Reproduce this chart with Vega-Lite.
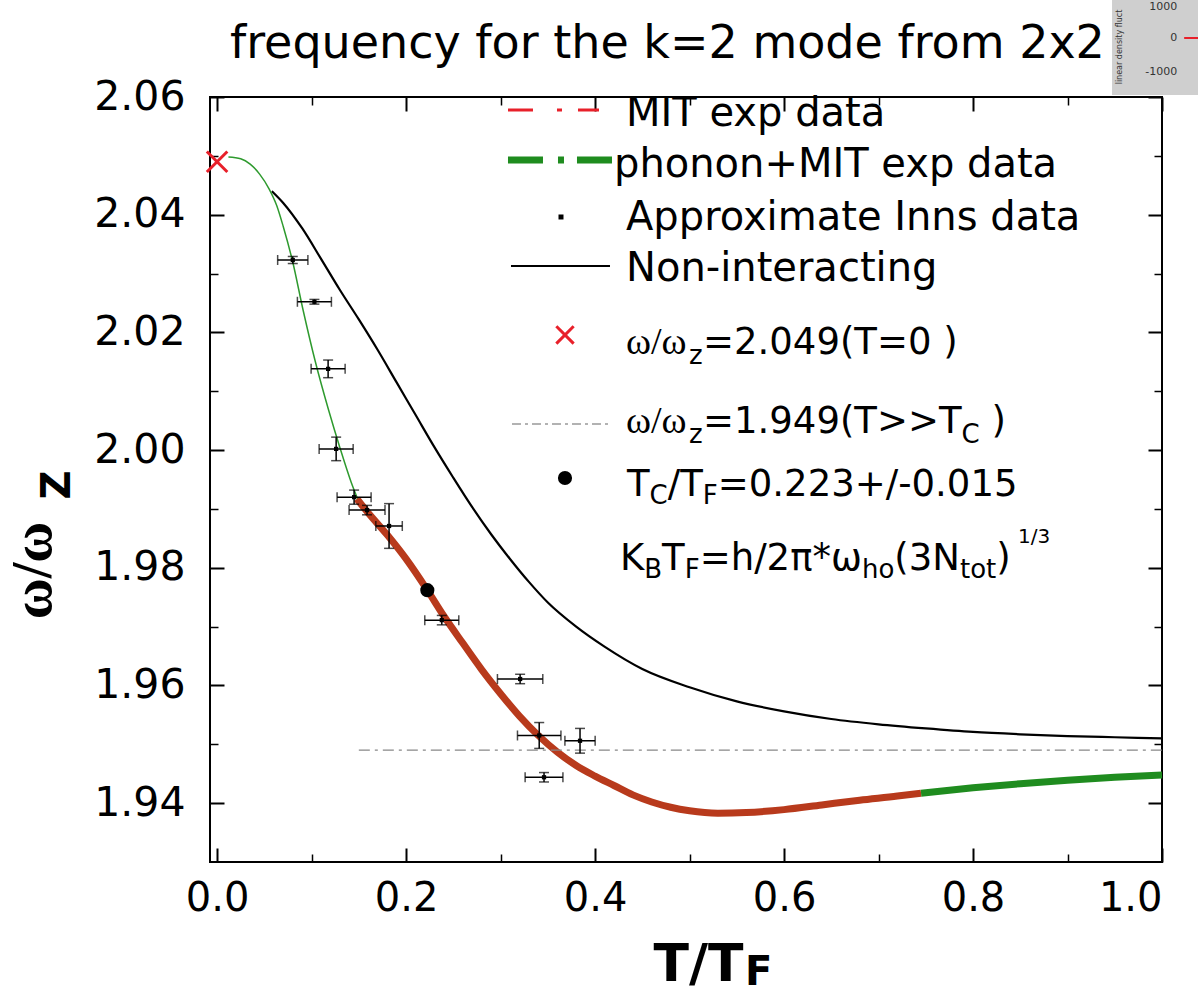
{
  "$schema": "https://vega.github.io/schema/vega-lite/v6.json",
  "width": 952,
  "height": 765,
  "autosize": {"type": "none"},
  "padding": {"left": 210, "top": 97, "right": 36, "bottom": 140},
  "background": "white",
  "config": {
    "view": {"stroke": "black", "strokeWidth": 2},
    "axis": {"grid": false, "domain": false, "tickColor": "black", "labelColor": "black", "titleColor": "black", "labelOverlap": false}
  },
  "resolve": {"axis": {"x": "independent", "y": "independent"}},
  "datasets": {
    "curves": [
      {"s": "noint", "t": 0.058, "w": 2.0440}, {"s": "noint", "t": 0.07, "w": 2.0420}, {"s": "noint", "t": 0.09, "w": 2.0377}, {"s": "noint", "t": 0.11, "w": 2.0325}, {"s": "noint", "t": 0.13, "w": 2.0272}, {"s": "noint", "t": 0.15, "w": 2.0222}, {"s": "noint", "t": 0.17, "w": 2.0170}, {"s": "noint", "t": 0.19, "w": 2.0115}, {"s": "noint", "t": 0.21, "w": 2.0060}, {"s": "noint", "t": 0.23, "w": 2.0005}, {"s": "noint", "t": 0.25, "w": 1.9953}, {"s": "noint", "t": 0.27, "w": 1.9903}, {"s": "noint", "t": 0.29, "w": 1.9857}, {"s": "noint", "t": 0.31, "w": 1.9815}, {"s": "noint", "t": 0.33, "w": 1.9776}, {"s": "noint", "t": 0.35, "w": 1.9741}, {"s": "noint", "t": 0.38, "w": 1.9700}, {"s": "noint", "t": 0.41, "w": 1.9666}, {"s": "noint", "t": 0.45, "w": 1.9628}, {"s": "noint", "t": 0.50, "w": 1.9597}, {"s": "noint", "t": 0.55, "w": 1.9573}, {"s": "noint", "t": 0.60, "w": 1.9556}, {"s": "noint", "t": 0.65, "w": 1.9543}, {"s": "noint", "t": 0.70, "w": 1.9534}, {"s": "noint", "t": 0.75, "w": 1.9527}, {"s": "noint", "t": 0.80, "w": 1.9521}, {"s": "noint", "t": 0.85, "w": 1.9517}, {"s": "noint", "t": 0.90, "w": 1.9514}, {"s": "noint", "t": 0.95, "w": 1.9512}, {"s": "noint", "t": 1.00, "w": 1.9510},
      {"s": "fit", "t": 0.012, "w": 2.0498}, {"s": "fit", "t": 0.025, "w": 2.0495}, {"s": "fit", "t": 0.035, "w": 2.0486}, {"s": "fit", "t": 0.045, "w": 2.0469}, {"s": "fit", "t": 0.055, "w": 2.0444}, {"s": "fit", "t": 0.063, "w": 2.0416}, {"s": "fit", "t": 0.070, "w": 2.0380}, {"s": "fit", "t": 0.080, "w": 2.0320}, {"s": "fit", "t": 0.091, "w": 2.0238}, {"s": "fit", "t": 0.104, "w": 2.0150}, {"s": "fit", "t": 0.118, "w": 2.0068}, {"s": "fit", "t": 0.130, "w": 2.0004}, {"s": "fit", "t": 0.142, "w": 1.9945}, {"s": "fit", "t": 0.150, "w": 1.9912},
      {"s": "mit", "t": 0.148, "w": 1.9917}, {"s": "mit", "t": 0.16, "w": 1.9893}, {"s": "mit", "t": 0.18, "w": 1.9856}, {"s": "mit", "t": 0.20, "w": 1.9815}, {"s": "mit", "t": 0.2225, "w": 1.9762}, {"s": "mit", "t": 0.24, "w": 1.9718}, {"s": "mit", "t": 0.26, "w": 1.9672}, {"s": "mit", "t": 0.28, "w": 1.9627}, {"s": "mit", "t": 0.30, "w": 1.9586}, {"s": "mit", "t": 0.32, "w": 1.9548}, {"s": "mit", "t": 0.34, "w": 1.9515}, {"s": "mit", "t": 0.36, "w": 1.9487}, {"s": "mit", "t": 0.38, "w": 1.9464}, {"s": "mit", "t": 0.40, "w": 1.9446}, {"s": "mit", "t": 0.42, "w": 1.9430}, {"s": "mit", "t": 0.44, "w": 1.9414}, {"s": "mit", "t": 0.46, "w": 1.9402}, {"s": "mit", "t": 0.48, "w": 1.9393}, {"s": "mit", "t": 0.50, "w": 1.9387}, {"s": "mit", "t": 0.53, "w": 1.9383}, {"s": "mit", "t": 0.56, "w": 1.9384}, {"s": "mit", "t": 0.60, "w": 1.9389}, {"s": "mit", "t": 0.64, "w": 1.9397}, {"s": "mit", "t": 0.68, "w": 1.9405}, {"s": "mit", "t": 0.72, "w": 1.9412}, {"s": "mit", "t": 0.745, "w": 1.9417},
      {"s": "phonon", "t": 0.745, "w": 1.9417}, {"s": "phonon", "t": 0.80, "w": 1.9426}, {"s": "phonon", "t": 0.85, "w": 1.9433}, {"s": "phonon", "t": 0.90, "w": 1.9439}, {"s": "phonon", "t": 0.95, "w": 1.9444}, {"s": "phonon", "t": 1.00, "w": 1.9448},
      {"s": "hight", "t": 0.15, "w": 1.949}, {"s": "hight", "t": 1.0, "w": 1.949}
    ],
    "inns": [
      {"t": 0.0801, "w": 2.0323, "tlo": 0.0641, "thi": 0.0961, "wlo": 2.0317, "whi": 2.0329},
      {"t": 0.1030, "w": 2.0252, "tlo": 0.0850, "thi": 0.1210, "wlo": 2.0248, "whi": 2.0256},
      {"t": 0.1175, "w": 2.0138, "tlo": 0.0995, "thi": 0.1355, "wlo": 2.0123, "whi": 2.0153},
      {"t": 0.1260, "w": 2.0002, "tlo": 0.1080, "thi": 0.1440, "wlo": 1.9982, "whi": 2.0022},
      {"t": 0.1450, "w": 1.9920, "tlo": 0.1270, "thi": 0.1630, "wlo": 1.9908, "whi": 1.9932},
      {"t": 0.1587, "w": 1.9898, "tlo": 0.1397, "thi": 0.1777, "wlo": 1.9890, "whi": 1.9906},
      {"t": 0.1820, "w": 1.9871, "tlo": 0.1680, "thi": 0.1960, "wlo": 1.9833, "whi": 1.9909},
      {"t": 0.2378, "w": 1.9711, "tlo": 0.2198, "thi": 0.2558, "wlo": 1.9703, "whi": 1.9719},
      {"t": 0.3207, "w": 1.9611, "tlo": 0.2967, "thi": 0.3447, "wlo": 1.9603, "whi": 1.9619},
      {"t": 0.3409, "w": 1.9515, "tlo": 0.3179, "thi": 0.3639, "wlo": 1.9493, "whi": 1.9537},
      {"t": 0.3841, "w": 1.9506, "tlo": 0.3681, "thi": 0.4001, "wlo": 1.9485, "whi": 1.9527},
      {"t": 0.3460, "w": 1.9444, "tlo": 0.3260, "thi": 0.3660, "wlo": 1.9436, "whi": 1.9452}
    ],
    "marks": [
      {"k": "tc", "t": 0.2225, "w": 1.9762},
      {"k": "t0", "t": 0.0, "w": 2.049},
      {"k": "legtc", "t": 0.36819, "w": 1.99526},
      {"k": "legx", "t": 0.36819, "w": 2.01956},
      {"k": "legdot", "t": 0.36396, "w": 2.03961}
    ],
    "leglines": [
      {"k": "mit", "t": 0.30786, "w": 2.05779}, {"k": "mit", "t": 0.40417, "w": 2.05779},
      {"k": "phonon", "t": 0.30786, "w": 2.04929}, {"k": "phonon", "t": 0.41793, "w": 2.04929},
      {"k": "noint", "t": 0.31104, "w": 2.03128}, {"k": "noint", "t": 0.41581, "w": 2.03128},
      {"k": "hight", "t": 0.31210, "w": 2.00443}, {"k": "hight", "t": 0.41581, "w": 2.00443}
    ],
    "legtext": [
      {"k": "title", "t": 0.01365, "w": 2.06663, "text": "frequency for the k=2 mode from 2x2"},
      {"k": "main40", "t": 0.43274, "w": 2.05499, "text": "MIT exp data"},
      {"k": "main40", "t": 0.42004, "w": 2.04649, "text": "phonon+MIT exp data"},
      {"k": "main40", "t": 0.43274, "w": 2.03748, "text": "Approximate Inns data"},
      {"k": "main40", "t": 0.43274, "w": 2.02865, "text": "Non-interacting"},
      {"k": "omega", "t": 0.43274, "w": 2.01641, "text": "ω/ω"},
      {"k": "omega", "t": 0.43274, "w": 2.00282, "text": "ω/ω"},
      {"k": "sub", "t": 0.49942, "w": 2.01471, "text": "z"},
      {"k": "sub", "t": 0.49942, "w": 2.00112, "text": "z"},
      {"k": "sub", "t": 0.78791, "w": 2.00112, "text": "C"},
      {"k": "sub", "t": 0.45772, "w": 1.99092, "text": "C"},
      {"k": "sub", "t": 0.51402, "w": 1.99092, "text": "F"},
      {"k": "sub", "t": 0.45211, "w": 1.97818, "text": "B"},
      {"k": "sub", "t": 0.49486, "w": 1.97818, "text": "F"},
      {"k": "sub", "t": 0.68251, "w": 1.97818, "text": "ho"},
      {"k": "sub", "t": 0.78622, "w": 1.97818, "text": "tot"},
      {"k": "main37", "t": 0.51424, "w": 2.01641, "text": "=2.049(T=0 )"},
      {"k": "main37", "t": 0.51424, "w": 2.00282, "text": "=1.949(T>>T"},
      {"k": "main37", "t": 0.81956, "w": 2.00282, "text": ")"},
      {"k": "main37", "t": 0.43380, "w": 1.99228, "text": "T"},
      {"k": "main37", "t": 0.47688, "w": 1.99228, "text": "/T"},
      {"k": "main37", "t": 0.52990, "w": 1.99228, "text": "=0.223+/-0.015"},
      {"k": "main37", "t": 0.42639, "w": 1.97954, "text": "K"},
      {"k": "main37", "t": 0.47084, "w": 1.97954, "text": "T"},
      {"k": "main37", "t": 0.51074, "w": 1.97954, "text": "=h/2π*ω"},
      {"k": "main37", "t": 0.71669, "w": 1.97954, "text": "(3N"},
      {"k": "main37", "t": 0.82464, "w": 1.97954, "text": ")"},
      {"k": "sup", "t": 0.84760, "w": 1.98421, "text": "1/3"},
      {"k": "ztitle", "t": -0.15568, "w": 1.99407, "text": "Z"},
      {"k": "ftitle", "t": 0.55868, "w": 1.90910, "text": "F"}
    ],
    "inset": [
      {"k": "box", "t": 0.94713, "t2": 1.0381, "w": 2.07648, "w2": 2.06034}
    ],
    "insettext": [
      {"k": "lab", "t": 1.01603, "w": 2.07530, "text": "1000"},
      {"k": "lab", "t": 1.01603, "w": 2.07003, "text": "0"},
      {"k": "lab", "t": 1.01603, "w": 2.06425, "text": "-1000"},
      {"k": "rot", "t": 0.95558, "w": 2.06850, "text": "linear density fluct"}
    ],
    "insetline": [
      {"t": 1.02344, "w": 2.07003}, {"t": 1.0381, "w": 2.07003}
    ]
  },
  "layer": [
    {
      "data": {"name": "curves"},
      "transform": [{"filter": "datum.s === 'noint'"}],
      "mark": {"type": "line", "color": "black", "strokeWidth": 2.2, "interpolate": "monotone"},
      "encoding": {
        "x": {"field": "t", "type": "quantitative", "scale": {"domain": [-0.0075, 1.0], "nice": false, "zero": false},
          "axis": {"orient": "bottom", "values": [0, 0.2, 0.4, 0.6, 0.8, 1.0], "format": ".1f", "tickSize": -14, "tickWidth": 2, "labelFontSize": 40, "labelFont": "DejaVu Sans", "labelPadding": 30, "title": "T/T", "titleFont": "DejaVu Sans", "titleFontSize": 52, "titleFontWeight": "bold", "titleX": 488, "titleY": 118, "titleAlign": "center", "titleBaseline": "alphabetic"}},
        "y": {"field": "w", "type": "quantitative", "scale": {"domain": [1.93, 2.06], "nice": false, "zero": false},
          "axis": {"orient": "left", "values": [1.94, 1.96, 1.98, 2.0, 2.02, 2.04, 2.06], "format": ".2f", "tickSize": -14, "tickWidth": 2, "labelFontSize": 41, "labelFont": "DejaVu Sans", "labelPadding": 39, "title": "ω/ω", "titleFont": "Liberation Serif", "titleFontSize": 56, "titleFontWeight": "bold", "titleX": -160, "titleY": 473, "titleAngle": -90, "titleAlign": "center", "titleBaseline": "alphabetic"}}
      }
    },
    {
      "data": {"name": "curves"},
      "transform": [{"filter": "datum.s === 'fit'"}],
      "mark": {"type": "line", "color": "#2e9a2e", "strokeWidth": 1.5, "interpolate": "monotone"},
      "encoding": {
        "x": {"field": "t", "type": "quantitative", "scale": {"domain": [-0.0075, 1.0], "nice": false, "zero": false},
          "axis": {"orient": "bottom", "values": [0.1, 0.3, 0.5, 0.7, 0.9], "tickSize": -8, "tickWidth": 1.5, "labels": false, "title": null}},
        "y": {"field": "w", "type": "quantitative", "scale": {"domain": [1.93, 2.06], "nice": false, "zero": false},
          "axis": {"orient": "left", "values": [1.95, 1.97, 1.99, 2.01, 2.03, 2.05], "tickSize": -8, "tickWidth": 1.5, "labels": false, "title": null}}
      }
    },
    {
      "data": {"name": "curves"},
      "transform": [{"filter": "datum.s === 'mit'"}],
      "mark": {"type": "line", "color": "#b83a1c", "strokeWidth": 7, "interpolate": "monotone"},
      "encoding": {
        "x": {"field": "t", "type": "quantitative", "scale": {"domain": [-0.0075, 1.0], "nice": false, "zero": false},
          "axis": {"orient": "top", "values": [0, 0.2, 0.4, 0.6, 0.8, 1.0], "tickSize": -14, "tickWidth": 2, "labels": false, "title": null}},
        "y": {"field": "w", "type": "quantitative", "scale": {"domain": [1.93, 2.06], "nice": false, "zero": false},
          "axis": {"orient": "right", "values": [1.94, 1.96, 1.98, 2.0, 2.02, 2.04, 2.06], "tickSize": -14, "tickWidth": 2, "labels": false, "title": null}}
      }
    },
    {
      "data": {"name": "curves"},
      "transform": [{"filter": "datum.s === 'phonon'"}],
      "mark": {"type": "line", "color": "#1f8c1f", "strokeWidth": 7, "interpolate": "monotone"},
      "encoding": {
        "x": {"field": "t", "type": "quantitative", "scale": {"domain": [-0.0075, 1.0], "nice": false, "zero": false},
          "axis": {"orient": "top", "values": [0.1, 0.3, 0.5, 0.7, 0.9], "tickSize": -8, "tickWidth": 1.5, "labels": false, "title": null}},
        "y": {"field": "w", "type": "quantitative", "scale": {"domain": [1.93, 2.06], "nice": false, "zero": false},
          "axis": {"orient": "right", "values": [1.95, 1.97, 1.99, 2.01, 2.03, 2.05], "tickSize": -8, "tickWidth": 1.5, "labels": false, "title": null}}
      }
    },
    {
      "data": {"name": "curves"},
      "transform": [{"filter": "datum.s === 'hight'"}],
      "mark": {"type": "line", "color": "#888888", "strokeWidth": 1.3, "strokeDash": [11, 5, 3, 5]},
      "encoding": {
        "x": {"field": "t", "type": "quantitative", "axis": null},
        "y": {"field": "w", "type": "quantitative", "axis": null}
      }
    },
    {
      "data": {"name": "inns"},
      "mark": {"type": "rule", "color": "black", "strokeWidth": 1.5},
      "encoding": {
        "x": {"field": "tlo", "type": "quantitative", "axis": null},
        "x2": {"field": "thi"},
        "y": {"field": "w", "type": "quantitative", "axis": null}
      }
    },
    {
      "data": {"name": "inns"},
      "mark": {"type": "rule", "color": "black", "strokeWidth": 1.5},
      "encoding": {
        "x": {"field": "t", "type": "quantitative", "axis": null},
        "y": {"field": "wlo", "type": "quantitative", "axis": null},
        "y2": {"field": "whi"}
      }
    },
    {
      "data": {"name": "inns"},
      "mark": {"type": "tick", "orient": "vertical", "color": "black", "size": 10, "thickness": 1.5},
      "encoding": {
        "x": {"field": "tlo", "type": "quantitative", "axis": null},
        "y": {"field": "w", "type": "quantitative", "axis": null}
      }
    },
    {
      "data": {"name": "inns"},
      "mark": {"type": "tick", "orient": "vertical", "color": "black", "size": 10, "thickness": 1.5},
      "encoding": {
        "x": {"field": "thi", "type": "quantitative", "axis": null},
        "y": {"field": "w", "type": "quantitative", "axis": null}
      }
    },
    {
      "data": {"name": "inns"},
      "mark": {"type": "tick", "orient": "horizontal", "color": "black", "size": 10, "thickness": 1.5},
      "encoding": {
        "x": {"field": "t", "type": "quantitative", "axis": null},
        "y": {"field": "wlo", "type": "quantitative", "axis": null}
      }
    },
    {
      "data": {"name": "inns"},
      "mark": {"type": "tick", "orient": "horizontal", "color": "black", "size": 10, "thickness": 1.5},
      "encoding": {
        "x": {"field": "t", "type": "quantitative", "axis": null},
        "y": {"field": "whi", "type": "quantitative", "axis": null}
      }
    },
    {
      "data": {"name": "inns"},
      "mark": {"type": "point", "shape": "square", "filled": true, "color": "black", "size": 18, "opacity": 1},
      "encoding": {
        "x": {"field": "t", "type": "quantitative", "axis": null},
        "y": {"field": "w", "type": "quantitative", "axis": null}
      }
    },
    {
      "data": {"name": "marks"},
      "transform": [{"filter": "datum.k === 'tc' || datum.k === 'legtc'"}],
      "mark": {"type": "point", "shape": "circle", "filled": true, "color": "black", "size": 200, "opacity": 1},
      "encoding": {
        "x": {"field": "t", "type": "quantitative", "axis": null},
        "y": {"field": "w", "type": "quantitative", "axis": null}
      }
    },
    {
      "data": {"name": "marks"},
      "transform": [{"filter": "datum.k === 't0'"}],
      "mark": {"type": "point", "shape": "M-1,-1L1,1M-1,1L1,-1", "filled": false, "color": "#e8202a", "strokeWidth": 3, "size": 420, "opacity": 1},
      "encoding": {
        "x": {"field": "t", "type": "quantitative", "axis": null},
        "y": {"field": "w", "type": "quantitative", "axis": null}
      }
    },
    {
      "data": {"name": "marks"},
      "transform": [{"filter": "datum.k === 'legx'"}],
      "mark": {"type": "point", "shape": "M-1,-1L1,1M-1,1L1,-1", "filled": false, "color": "#e8202a", "strokeWidth": 3, "size": 300, "opacity": 1},
      "encoding": {
        "x": {"field": "t", "type": "quantitative", "axis": null},
        "y": {"field": "w", "type": "quantitative", "axis": null}
      }
    },
    {
      "data": {"name": "marks"},
      "transform": [{"filter": "datum.k === 'legdot'"}],
      "mark": {"type": "point", "shape": "square", "filled": true, "color": "black", "size": 25, "opacity": 1},
      "encoding": {
        "x": {"field": "t", "type": "quantitative", "axis": null},
        "y": {"field": "w", "type": "quantitative", "axis": null}
      }
    },
    {
      "data": {"name": "leglines"},
      "transform": [{"filter": "datum.k === 'mit'"}],
      "mark": {"type": "line", "color": "#e8202a", "strokeWidth": 3, "strokeDash": [25, 24, 5, 16]},
      "encoding": {
        "x": {"field": "t", "type": "quantitative", "axis": null},
        "y": {"field": "w", "type": "quantitative", "axis": null}
      }
    },
    {
      "data": {"name": "leglines"},
      "transform": [{"filter": "datum.k === 'phonon'"}],
      "mark": {"type": "line", "color": "#1f8c1f", "strokeWidth": 7, "strokeDash": [35, 15, 6, 13]},
      "encoding": {
        "x": {"field": "t", "type": "quantitative", "axis": null},
        "y": {"field": "w", "type": "quantitative", "axis": null}
      }
    },
    {
      "data": {"name": "leglines"},
      "transform": [{"filter": "datum.k === 'noint'"}],
      "mark": {"type": "line", "color": "black", "strokeWidth": 2},
      "encoding": {
        "x": {"field": "t", "type": "quantitative", "axis": null},
        "y": {"field": "w", "type": "quantitative", "axis": null}
      }
    },
    {
      "data": {"name": "leglines"},
      "transform": [{"filter": "datum.k === 'hight'"}],
      "mark": {"type": "line", "color": "#999999", "strokeWidth": 1.3, "strokeDash": [9, 4, 3, 4]},
      "encoding": {
        "x": {"field": "t", "type": "quantitative", "axis": null},
        "y": {"field": "w", "type": "quantitative", "axis": null}
      }
    },
    {
      "data": {"name": "legtext"},
      "transform": [{"filter": "datum.k === 'title'"}],
      "mark": {"type": "text", "font": "DejaVu Sans", "fontSize": 46, "align": "left", "baseline": "alphabetic", "color": "black"},
      "encoding": {
        "x": {"field": "t", "type": "quantitative", "axis": null},
        "y": {"field": "w", "type": "quantitative", "axis": null},
        "text": {"field": "text"}
      }
    },
    {
      "data": {"name": "legtext"},
      "transform": [{"filter": "datum.k === 'main40'"}],
      "mark": {"type": "text", "font": "DejaVu Sans", "fontSize": 40, "align": "left", "baseline": "alphabetic", "color": "black"},
      "encoding": {
        "x": {"field": "t", "type": "quantitative", "axis": null},
        "y": {"field": "w", "type": "quantitative", "axis": null},
        "text": {"field": "text"}
      }
    },
    {
      "data": {"name": "legtext"},
      "transform": [{"filter": "datum.k === 'main37'"}],
      "mark": {"type": "text", "font": "DejaVu Sans", "fontSize": 37, "align": "left", "baseline": "alphabetic", "color": "black"},
      "encoding": {
        "x": {"field": "t", "type": "quantitative", "axis": null},
        "y": {"field": "w", "type": "quantitative", "axis": null},
        "text": {"field": "text"}
      }
    },
    {
      "data": {"name": "legtext"},
      "transform": [{"filter": "datum.k === 'sub'"}],
      "mark": {"type": "text", "font": "DejaVu Sans", "fontSize": 26, "align": "left", "baseline": "alphabetic", "color": "black"},
      "encoding": {
        "x": {"field": "t", "type": "quantitative", "axis": null},
        "y": {"field": "w", "type": "quantitative", "axis": null},
        "text": {"field": "text"}
      }
    },
    {
      "data": {"name": "legtext"},
      "transform": [{"filter": "datum.k === 'sup'"}],
      "mark": {"type": "text", "font": "DejaVu Sans", "fontSize": 20, "align": "left", "baseline": "alphabetic", "color": "black"},
      "encoding": {
        "x": {"field": "t", "type": "quantitative", "axis": null},
        "y": {"field": "w", "type": "quantitative", "axis": null},
        "text": {"field": "text"}
      }
    },
    {
      "data": {"name": "legtext"},
      "transform": [{"filter": "datum.k === 'omega'"}],
      "mark": {"type": "text", "font": "Liberation Serif", "fontSize": 38, "align": "left", "baseline": "alphabetic", "color": "black"},
      "encoding": {
        "x": {"field": "t", "type": "quantitative", "axis": null},
        "y": {"field": "w", "type": "quantitative", "axis": null},
        "text": {"field": "text"}
      }
    },
    {
      "data": {"name": "legtext"},
      "transform": [{"filter": "datum.k === 'ztitle'"}],
      "mark": {"type": "text", "font": "DejaVu Sans", "fontSize": 40, "fontWeight": "bold", "angle": 270, "align": "center", "baseline": "alphabetic", "color": "black"},
      "encoding": {
        "x": {"field": "t", "type": "quantitative", "axis": null},
        "y": {"field": "w", "type": "quantitative", "axis": null},
        "text": {"field": "text"}
      }
    },
    {
      "data": {"name": "legtext"},
      "transform": [{"filter": "datum.k === 'ftitle'"}],
      "mark": {"type": "text", "font": "DejaVu Sans", "fontSize": 40, "fontWeight": "bold", "align": "left", "baseline": "alphabetic", "color": "black"},
      "encoding": {
        "x": {"field": "t", "type": "quantitative", "axis": null},
        "y": {"field": "w", "type": "quantitative", "axis": null},
        "text": {"field": "text"}
      }
    },
    {
      "data": {"name": "inset"},
      "mark": {"type": "rect", "color": "#cfcfcf", "opacity": 1},
      "encoding": {
        "x": {"field": "t", "type": "quantitative", "axis": null},
        "x2": {"field": "t2"},
        "y": {"field": "w", "type": "quantitative", "axis": null},
        "y2": {"field": "w2"}
      }
    },
    {
      "data": {"name": "insetline"},
      "mark": {"type": "line", "color": "#e8202a", "strokeWidth": 2},
      "encoding": {
        "x": {"field": "t", "type": "quantitative", "axis": null},
        "y": {"field": "w", "type": "quantitative", "axis": null}
      }
    },
    {
      "data": {"name": "insettext"},
      "transform": [{"filter": "datum.k === 'lab'"}],
      "mark": {"type": "text", "font": "DejaVu Sans", "fontSize": 11, "align": "right", "baseline": "middle", "color": "#333333"},
      "encoding": {
        "x": {"field": "t", "type": "quantitative", "axis": null},
        "y": {"field": "w", "type": "quantitative", "axis": null},
        "text": {"field": "text"}
      }
    },
    {
      "data": {"name": "insettext"},
      "transform": [{"filter": "datum.k === 'rot'"}],
      "mark": {"type": "text", "font": "DejaVu Sans", "fontSize": 8, "angle": 270, "align": "center", "baseline": "middle", "color": "#333333"},
      "encoding": {
        "x": {"field": "t", "type": "quantitative", "axis": null},
        "y": {"field": "w", "type": "quantitative", "axis": null},
        "text": {"field": "text"}
      }
    }
  ]
}
